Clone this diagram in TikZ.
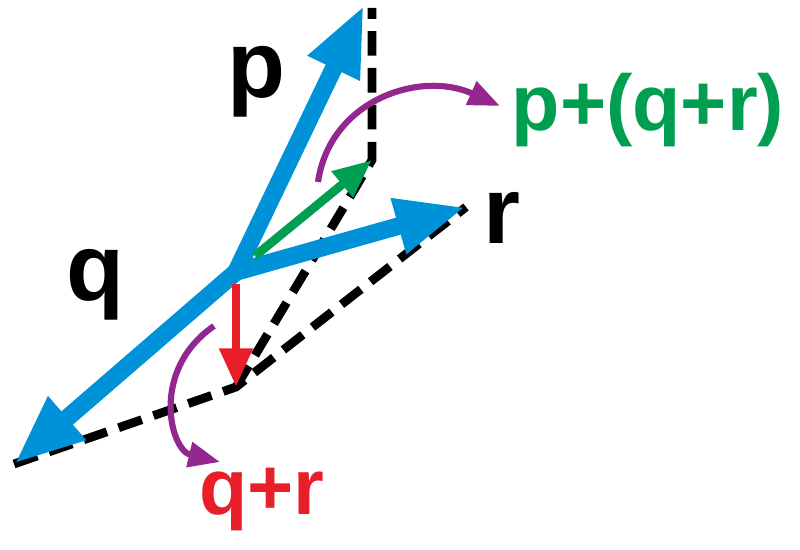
\documentclass[tikz,border=0pt]{standalone}
\usepackage{fontspec}
\setmainfont{Liberation Sans}
\usetikzlibrary{arrows.meta}
\definecolor{vblue}{RGB}{0,146,216}
\definecolor{vgreen}{RGB}{0,158,80}
\definecolor{vred}{RGB}{232,30,40}
\definecolor{vpurple}{RGB}{146,39,143}
\tikzset{
  dsh/.style={black, line width=5pt, dash pattern=on 14pt off 7pt},
  purparrow/.style={vpurple, line width=3.5pt, -{Triangle[length=18pt,width=14pt]}},
  bluevec/.style={vblue, line width=10pt, -{Triangle[length=40pt,width=30pt]}},
  thinvec/.style={line width=5pt, -{Triangle[length=22pt,width=18pt]}},
  lab/.style={font=\fontsize{#1}{#1}\selectfont\bfseries, inner sep=0pt}
}
\begin{document}
\begin{tikzpicture}[x=0.02cm,y=-0.02cm]
\useasboundingbox (0,0) rectangle (800,550);
\coordinate (O) at (236,272);
\coordinate (P) at (364,5);
\coordinate (Q) at (14,464);
\coordinate (R) at (466,207);
\coordinate (QR) at (236,387);
\coordinate (PQR) at (372,160);
\coordinate (Ptop) at (372,8);
\coordinate (Rstart) at (236,284);
\coordinate (Gstart) at (255,256);
\draw[dsh] (Q) -- (QR) -- (R);
\draw[dsh] (QR) -- (PQR) -- (Ptop);
\draw[bluevec] (O) -- (P);
\draw[bluevec] (O) -- (Q);
\draw[bluevec] (O) -- (R);
\draw[thinvec, vred] (Rstart) -- (QR);
\draw[thinvec, vgreen] (Gstart) -- (PQR);
\coordinate (a1) at (318,182);
\coordinate (a2) at (500,106);
\draw[purparrow] (a1) .. controls (330,100) and (420,70) .. (a2);
\coordinate (b1) at (214,326);
\coordinate (b2) at (220,462);
\draw[purparrow] (b1) .. controls (150,370) and (170,450) .. (b2);
\node[lab=54pt] (lp) at (256,82) {p};
\node[lab=54pt] (lq) at (95,285) {q};
\node[lab=54pt] (lr) at (502,218) {r};
\node[lab=45pt, text=vgreen] (lpqr) at (648,110) {p+(q+r)};
\node[lab=45pt, text=vred] (lqr) at (262,500) {q+r};
\end{tikzpicture}
\end{document}
